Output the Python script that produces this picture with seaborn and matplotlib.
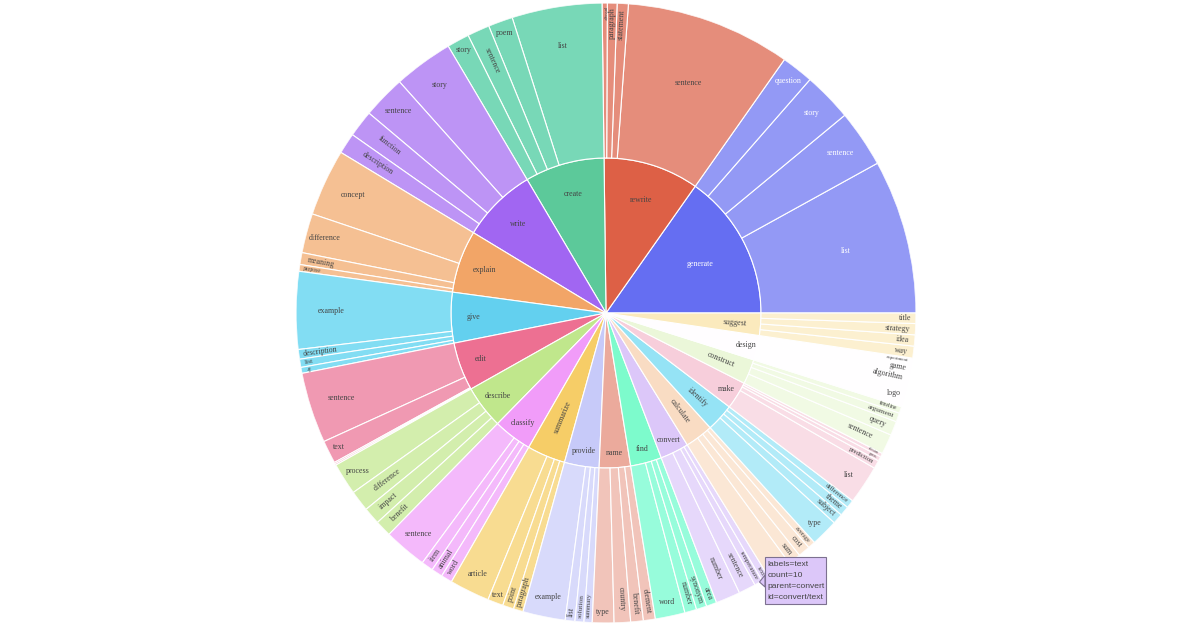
import colorsys
import numpy as np
import pandas as pd
import seaborn as sns
import matplotlib
matplotlib.use("Agg")
import matplotlib.pyplot as plt
from matplotlib.colors import to_rgb, to_hex
from matplotlib.font_manager import FontProperties
from matplotlib.patches import Rectangle, Polygon

# ---------------- data ----------------
pair_verbs = (["generate"] * 4 + ["rewrite"] * 4 + ["create"] * 4 + ["write"] * 4 +
              ["explain"] * 4 + ["give"] * 4 + ["edit"] * 4 + ["describe"] * 4 +
              ["classify"] * 4 + ["summarize"] * 4 + ["provide"] * 4 + ["name"] * 4 +
              ["find"] * 4 + ["convert"] * 4 + ["calculate"] * 4 + ["identify"] * 4 +
              ["make"] * 4 + ["construct"] * 4 + ["design"] * 4 + ["suggest"] * 4)
pair_nouns = ["list", "sentence", "story", "question",
              "sentence", "statement", "paragraph", "passage",
              "list", "poem", "sentence", "story",
              "story", "sentence", "function", "description",
              "concept", "difference", "meaning", "purpose",
              "example", "description", "list", "tip",
              "sentence", "text", "paragraph", "essay",
              "process", "difference", "impact", "benefit",
              "sentence", "item", "animal", "word",
              "article", "text", "point", "paragraph",
              "example", "list", "solution", "summary",
              "type", "country", "benefit", "element",
              "word", "number", "synonym", "area",
              "number", "sentence", "temperature", "text",
              "area", "sum", "cost", "average",
              "type", "subject", "theme", "difference",
              "list", "prediction", "guess", "decision",
              "sentence", "query", "argument", "timeline",
              "logo", "algorithm", "game", "experiment",
              "way", "idea", "strategy", "title"]
pair_counts = [207, 77, 66, 43,
               222, 15, 13, 7,
               121, 33, 30, 30,
               80, 58, 36, 28,
               90, 53, 16, 9,
               104, 13, 11, 8,
               95, 31, 2, 2,
               43, 28, 23, 22,
               58, 16, 15, 15,
               54, 21, 15, 13,
               57, 13, 12, 11,
               29, 22, 17, 16,
               40, 16, 14, 14,
               33, 23, 11, 10,
               33, 17, 16, 10,
               37, 14, 13, 11,
               52, 11, 6, 5,
               27, 19, 12, 9,
               30, 15, 13, 8,
               16, 15, 15, 14]

base_colorway = ["#636EFA", "#EF553B", "#00CC96", "#AB63FA", "#FFA15A",
                 "#19D3F3", "#FF6692", "#B6E880", "#FF97FF", "#FECB52"]

hover_lines = ["labels=text", "count=10", "parent=convert", "id=convert/text"]

# ---------------- style ----------------
sns.set_theme(style="white")
plt.rcParams["font.family"] = ["Liberation Serif", "DejaVu Serif"]

W, H = 1200, 630
CX, CY, R = 606.0, 313.0, 310.0
R_IN = R / 2.0
BASE_PX = 7.9
PAD = 2.0
PX2PT = 0.72
HOVER_BOX = (765, 826, 557, 604)

# the reference screenshot carries colours re-encoded for a wide-gamut display
_M = np.array([[0.8224621, 0.1775380, 0.0],
               [0.0331941, 0.9668058, 0.0],
               [0.0170827, 0.0723974, 0.9105199]])


def screen(rgb):
    c = np.asarray(rgb, dtype=float)
    lin = np.where(c <= 0.04045, c / 12.92, ((c + 0.055) / 1.055) ** 2.4)
    p = np.clip(_M @ lin, 0, 1)
    enc = np.where(p <= 0.0031308, p * 12.92, 1.055 * p ** (1 / 2.4) - 0.055)
    return tuple(np.clip(enc, 0, 1))


def lighten(hexc, amt=0.2):
    r, g, b = to_rgb(hexc)
    h, l, s = colorsys.rgb_to_hls(r, g, b)
    l = min(1.0, l + amt)
    return to_hex(colorsys.hls_to_rgb(h, l, s))


ext_colors = base_colorway + [lighten(c) for c in base_colorway]


def blend(hexc, alpha=0.7):
    c = np.array(to_rgb(hexc))
    return tuple(c * alpha + (1 - alpha))


def text_col(hexc):
    r, g, b = [v * 255 for v in to_rgb(hexc)]
    bright = (r * 299 + g * 587 + b * 114) / 1000.0
    return "#444444" if bright >= 128 else "white"


df = pd.DataFrame({"verb": pair_verbs, "noun": pair_nouns, "count": pair_counts})
verb_tot = df.groupby("verb", sort=False)["count"].sum().sort_values(ascending=False, kind="stable")
total = verb_tot.sum()

fig = plt.figure(figsize=(W / 100, H / 100), dpi=100)
fig.patch.set_facecolor("white")
ax = fig.add_axes([(CX - R) / W, (H - CY - R) / H, 2 * R / W, 2 * R / H], projection="polar")
ax.set_ylim(0, R)
ax.set_axis_off()
renderer = fig.canvas.get_renderer()
fp = FontProperties(family="Liberation Serif", size=BASE_PX * PX2PT)


def twidth(s):
    w, h, d = renderer.get_text_width_height_descent(s, fp, ismath=False)
    return w


def max_half(a, half, r, ring):
    q = a + 1.0 / (2 * np.tan(half))
    return r * min(1.0 / (np.sqrt(q * q + 0.5) + q), ring / (np.sqrt(a * a + ring / 2) + a))


def rad_t(w, h, r, ring, half):
    rr = max(1e-6, r - 2 * PAD)
    a = w / h
    s = max_half(a, half, rr, ring)
    return s * 2 / h, (np.cos(s / rr) - a * s / rr) * rr


def tan_t(w, h, r, ring, half):
    rr = max(1e-6, r - 2 * PAD)
    a = h / w
    s = max_half(a, half, rr, ring)
    return s * 2 / w, (np.cos(s / rr) - a * s / rr) * rr


def norm_rot(d):
    d = (d + 180) % 360 - 180
    if d > 90:
        d -= 180
    elif d <= -90:
        d += 180
    return d


def place(label, r0, r1, t0, t1):
    w = twidth(label)
    h = 1.107 * BASE_PX
    half = np.radians((t1 - t0) / 2)
    mid = (t0 + t1) / 2
    ring = 1 - r0 / r1
    sh = np.sin(half)
    r_ins = min(sh / (1 + sh), ring / 2)
    sc = r_ins * r1 * 2 / np.hypot(w, h)
    if sc >= 1:
        return mid, r1 * (1 - r_ins), 0.0, 1.0
    cands = []
    for A in (90.0, 270.0):
        if t0 < A < t1:
            ce = np.radians(min(A - t0, t1 - A))
            s, rc = tan_t(w, h, r1, ring, ce)
            cands.append((s, A, rc, 0.0))
    for A in (0.0, 180.0, 360.0):
        if t0 < A < t1:
            ce = np.radians(min(A - t0, t1 - A))
            s, rc = rad_t(w, h, r1, ring, ce)
            cands.append((s, A, rc, 0.0))
    cands.append((sc, mid, r1 * (1 - r_ins), 0.0))
    s, rc = rad_t(w, h, r1, ring, half)
    cands.append((s, mid, rc, norm_rot(mid)))
    s, rc = tan_t(w, h, r1, ring, half)
    cands.append((s, mid, rc, norm_rot(mid + 90)))
    best = cands[0]
    for c in cands:
        if c[0] > best[0]:
            best = c
    return best[1], best[2], best[3], min(1.0, best[0])


def draw_label(label, r0, r1, t0, t1, color):
    ang, rc, rot, sc = place(label, r0, r1, t0, t1)
    fs = BASE_PX * sc
    if fs < 1.6:
        return
    px = CX + rc * np.cos(np.radians(ang))
    py = CY - rc * np.sin(np.radians(ang))
    x0, x1, y0, y1 = HOVER_BOX
    if x0 - 4 <= px <= x1 and y0 <= py <= y1:
        return  # covered by the hover label in the reference
    ax.text(np.radians(ang), rc, label, rotation=rot, rotation_mode="anchor",
            ha="center", va="center", fontsize=fs * PX2PT, color=color,
            family=["Liberation Serif", "DejaVu Serif"], clip_on=False)


start = 0.0
for i, (verb, vtot) in enumerate(verb_tot.items()):
    vcol = ext_colors[i % len(ext_colors)]
    span = 360.0 * vtot / total
    ax.bar(np.radians(start), R_IN, width=np.radians(span), bottom=0, align="edge",
           color=screen(to_rgb(vcol)), edgecolor="white", linewidth=0.8)
    tcol = text_col(vcol)
    draw_label(verb, 0.0, R_IN, start, start + span, tcol)
    sub = df[df["verb"] == verb].sort_values("count", ascending=False, kind="stable")
    cstart = start
    leaf_col = screen(blend(vcol, 0.7))
    for _, row in sub.iterrows():
        cspan = 360.0 * row["count"] / total
        ax.bar(np.radians(cstart), R - R_IN, width=np.radians(cspan), bottom=R_IN, align="edge",
               color=leaf_col, edgecolor="white", linewidth=0.8)
        draw_label(row["noun"], R_IN, R, cstart, cstart + cspan, tcol)
        cstart += cspan
    start += span

# ---------------- hover label ----------------
hover_bg = screen(to_rgb(ext_colors[13]))
bx0, bx1, by0, by1 = HOVER_BOX
fig.add_artist(Polygon([(bx0 / W, 1 - 575 / H), (759.5 / W, 1 - 582 / H), (bx0 / W, 1 - 587 / H)],
                       closed=True, transform=fig.transFigure, facecolor=hover_bg,
                       edgecolor="#7d7190", linewidth=0.8, zorder=9))
fig.add_artist(Rectangle((bx0 / W, 1 - by1 / H), (bx1 - bx0) / W, (by1 - by0) / H,
                         transform=fig.transFigure, facecolor=hover_bg,
                         edgecolor="#7d7190", linewidth=0.8, zorder=10))
for k, line in enumerate(hover_lines):
    fig.text(767.5 / W, 1 - (564.0 + k * 11.1) / H, line, ha="left", va="center",
             fontsize=8.5 * PX2PT, color="#444444", family=["Liberation Sans", "DejaVu Sans"],
             zorder=11)

fig.savefig("out.png", dpi=100, facecolor="white")
